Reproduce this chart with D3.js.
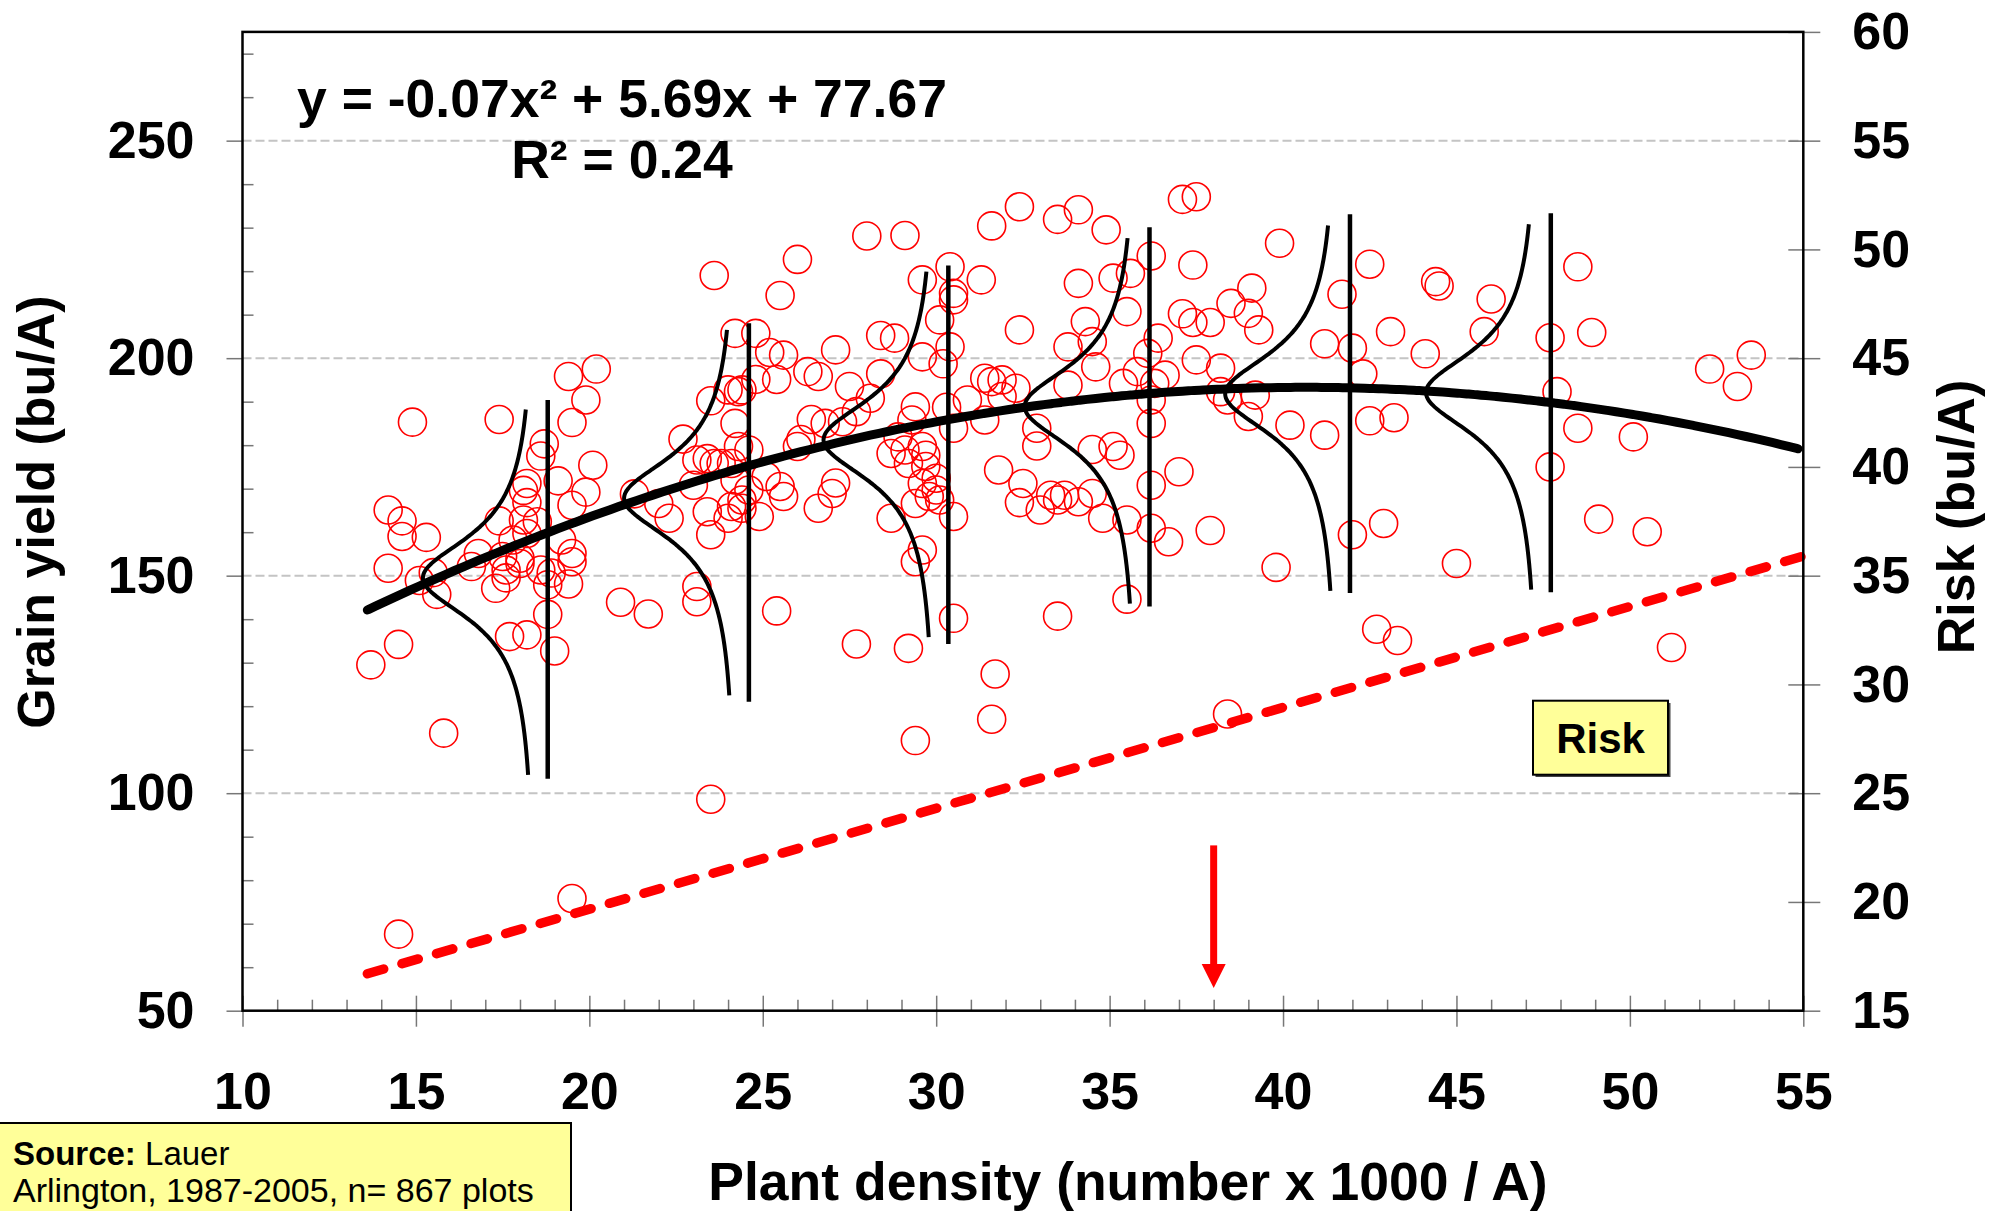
<!DOCTYPE html>
<html>
<head>
<meta charset="utf-8">
<script src="https://cdn.jsdelivr.net/npm/d3@7"></script>
<style>
  body { margin: 0; background: #fff; }
  svg { display: block; }
  text { font-family: "Liberation Sans", Arial, sans-serif; }
</style>
</head>
<body>
<svg id="chart" width="2001" height="1211"></svg>
<script>
// plot density (x 1000 / A) and grain yield (bu/A) of each plot
const plotDensity = [
  19.4, 20.2, 19.9, 19.5, 14.9, 17.4, 18.7, 18.6, 20.1, 19.1, 18.2, 18.1, 18.2, 19.9, 19.5, 22.7, 21.3, 22.0, 22.3, 14.2,
  14.6, 14.6, 15.3, 17.4, 18.1, 18.5, 17.8, 18.2, 19.2, 19.5, 16.8, 17.5, 18.0,
  14.2, 15.1, 15.5, 15.6, 16.6, 17.3, 17.6, 17.6, 18.0, 18.6, 18.9, 18.8, 19.4, 19.5, 18.8, 17.7, 18.2, 19.0, 20.9, 21.7,
  14.5, 13.7, 15.8, 19.5, 14.5,
  23.6, 26.0, 25.5, 28.0, 29.1, 31.6, 32.4, 33.5,
  24.2, 24.8, 25.2, 25.6, 27.1, 28.4, 28.8, 29.6, 30.4, 30.5, 30.5, 31.3, 30.1, 30.4, 30.2, 29.6, 32.4,
  24.0, 24.4, 24.3, 24.8, 25.4, 26.3, 26.6, 27.5, 28.4, 28.1, 27.7, 23.5, 24.2, 26.4, 26.8, 26.1, 26.0, 27.3, 29.4, 29.3,
  30.3, 30.5, 30.9, 31.4, 31.6, 31.4, 31.9, 32.3, 31.9, 32.9, 32.9, 31.8, 32.5, 32.4, 33.0, 33.3, 33.5,
  28.9, 29.1, 29.6, 29.7, 29.2, 29.7, 28.7, 29.6, 30.0, 30.0, 29.8, 30.1, 29.4, 30.5, 28.7, 29.6,
  23.1, 23.4, 23.6, 23.8, 24.3, 24.6, 24.1, 23.0, 24.2, 24.6, 25.1, 25.5, 25.6, 24.4, 24.1, 24.4, 23.4, 24.9, 24.0, 23.5,
  26.6, 27.1, 27.0,
  23.1, 23.1, 25.4, 27.7, 29.2, 30.5, 29.4, 31.7, 31.6, 29.4, 33.5, 23.5,
  34.1, 34.9, 37.1, 37.5, 34.1, 35.1, 35.6, 36.2, 37.4, 39.9, 34.3, 35.5, 37.1, 37.4, 37.9, 38.5, 39.1, 39.0, 39.3, 33.8,
  34.5, 36.4, 36.1, 37.5, 38.2, 33.8, 34.6, 35.4, 35.8, 36.3, 36.6, 36.2, 36.2, 38.2, 38.4, 39.2, 39.0, 40.2, 41.2, 41.2,
  41.7, 42.5, 42.0, 42.3, 43.1, 42.5, 43.2,
  34.5, 35.1, 35.3, 33.7, 34.1, 34.5, 34.8, 35.5, 36.2, 37.0, 36.2, 36.7, 37.9, 42.0, 42.9,
  35.5, 39.8, 42.7, 43.3, 38.4,
  44.4, 44.5, 46.0, 45.8, 48.5, 47.7, 48.9, 44.1, 47.9, 48.5, 50.1, 47.7, 52.3, 53.1, 53.5, 49.1, 50.5,
  45.0, 51.2
];
const plotYield = [
  195.8, 197.5, 190.4, 185.2, 185.3, 185.9, 180.3, 177.5, 175.4, 171.8, 171.2, 169.6, 166.8, 169.2, 166.2, 181.4, 168.8, 166.6, 163.2, 165.1,
  162.6, 159.0, 158.8, 162.6, 162.8, 162.4, 158.2, 159.7, 158.2, 155.1, 155.1, 154.4, 154.0,
  151.7, 148.9, 150.7, 145.7, 152.1, 147.1, 151.3, 149.5, 152.8, 151.3, 150.6, 147.9, 148.1, 153.2, 141.1, 136.0, 136.4, 132.7, 143.9, 141.2,
  134.2, 129.5, 113.8, 75.8, 67.6,
  219.0, 222.7, 214.4, 228.1, 228.2, 230.4, 234.8, 231.9,
  205.7, 205.7, 201.3, 200.7, 201.9, 205.2, 204.6, 218.0, 221.0, 214.9, 213.4, 218.0, 208.8, 202.6, 198.7, 200.3, 206.5,
  192.7, 192.7, 192.3, 195.1, 195.1, 196.9, 195.8, 193.5, 196.4, 190.8, 187.7, 190.2, 185.0, 185.9, 185.0, 181.3, 179.7, 185.4, 188.8, 185.8,
  188.7, 183.9, 190.4, 185.8, 194.6, 195.4, 195.0, 193.1, 191.2, 183.9, 179.8, 174.3, 171.2, 166.8, 165.1, 168.5, 167.4,
  181.9, 178.9, 179.7, 177.7, 175.8, 175.1, 178.1, 171.2, 172.4, 169.7, 168.2, 167.4, 166.6, 163.6, 163.2, 155.9,
  176.6, 176.9, 175.8, 175.8, 179.7, 178.9, 175.8, 170.8, 172.0, 169.7, 172.8, 170.5, 168.2, 167.4, 165.9, 165.5, 164.7, 163.6, 163.2, 159.4,
  165.5, 171.3, 168.9,
  147.5, 144.0, 141.9, 134.3, 133.3, 140.2, 153.2, 127.4, 117.0, 112.1, 140.7, 98.6,
  234.1, 229.5, 236.5, 237.1, 217.2, 218.4, 219.5, 223.5, 221.4, 226.4, 208.4, 210.7, 210.2, 208.2, 208.2, 212.6, 216.1, 210.3, 206.5, 202.6,
  203.8, 204.6, 201.1, 199.6, 197.7, 193.8, 198.0, 194.2, 196.9, 194.2, 196.1, 190.4, 185.0, 192.3, 190.4, 191.5, 186.6, 184.6, 182.3, 203.3,
  214.7, 221.6, 202.3, 196.4, 206.1, 185.6, 186.3,
  179.0, 179.7, 177.7, 168.5, 167.0, 168.9, 163.2, 162.8, 170.8, 173.9, 160.9, 157.8, 160.4, 159.4, 162.0,
  144.6, 151.9, 137.7, 135.1, 118.2,
  217.6, 216.6, 213.6, 206.1, 221.0, 204.7, 205.9, 201.0, 192.3, 183.9, 181.9, 175.0, 197.5, 193.5, 200.7, 163.0, 160.1,
  152.8, 133.5
];

// quadratic trend: y = -0.07x² + 5.69x + 77.67
const fitCoef = [-0.07, 5.69, 77.67];
const fitRange = [13.6, 55];

// risk line (right axis)
const riskDensity = [13.6, 55];
const riskValue = [16.7, 35.9];

// yield distributions drawn sideways along the trend
const bellDensity = [18.8, 24.6, 30.35, 36.15, 41.93, 47.72];
const bellCentre = [149.5, 167.8, 181.2, 188.9, 191.8, 192.1];
const bellLineTop = [190.4, 208.0, 221.3, 230.1, 233.1, 233.3];
const bellLineBottom = [103.3, 121.0, 134.3, 142.9, 146.0, 146.2];

// optimum density arrow
const arrowDensity = 38;
const arrowYield = [88, 55.2];

const leftTicks = [50, 100, 150, 200, 250];
const leftMinor = d3.range(60, 275, 10).filter(v => v % 50 !== 0);
const rightTicks = [15, 20, 25, 30, 35, 40, 45, 50, 55, 60];
const xTicks = [10, 15, 20, 25, 30, 35, 40, 45, 50, 55];
const xMinor = d3.range(11, 55).filter(v => v % 5 !== 0);

const svg = d3.select("#chart");
const box = { left: 242.5, right: 1803.3, top: 31.9, bottom: 1010.7 };

const x = d3.scaleLinear().domain([10, 55]).range([box.left, box.right]);
const y = d3.scaleLinear().domain([50, 275]).range([box.bottom, box.top]);
const yRisk = d3.scaleLinear().domain([15, 60]).range([box.bottom, box.top]);

// gridlines
svg.append("g")
  .selectAll("line")
  .data(leftTicks.slice(1))
  .join("line")
    .attr("x1", box.left).attr("x2", box.right)
    .attr("y1", d => y(d)).attr("y2", d => y(d))
    .attr("stroke", "#c4c4c4")
    .attr("stroke-width", 2)
    .attr("stroke-dasharray", "9,4");

// axes
function styleAxis(g, size) {
  g.select(".domain").remove();
  g.selectAll(".tick line").attr("stroke", "#555").attr("stroke-width", 1.5);
  g.selectAll("text")
    .attr("fill", "#000")
    .style("font-size", size + "px")
    .style("font-weight", "bold")
    .style("font-family", '"Liberation Sans", Arial, sans-serif');
}

svg.append("g")
  .attr("transform", `translate(${box.left},0)`)
  .call(d3.axisLeft(y).tickValues(leftTicks).tickSize(16).tickPadding(32))
  .call(g => styleAxis(g, 52));
svg.append("g")
  .attr("transform", `translate(${box.left},0)`)
  .call(d3.axisRight(y).tickValues(leftMinor).tickSize(11).tickFormat(""))
  .call(g => styleAxis(g, 0));

svg.append("g")
  .attr("transform", `translate(0,${box.bottom})`)
  .call(d3.axisBottom(x).tickValues(xTicks).tickSize(16).tickPadding(45))
  .call(g => styleAxis(g, 52));
svg.append("g")
  .attr("transform", `translate(0,${box.bottom})`)
  .call(d3.axisTop(x).tickValues(xTicks).tickSize(15).tickFormat(""))
  .call(g => styleAxis(g, 0));
svg.append("g")
  .attr("transform", `translate(0,${box.bottom})`)
  .call(d3.axisTop(x).tickValues(xMinor).tickSize(11).tickFormat(""))
  .call(g => styleAxis(g, 0));

svg.append("g")
  .attr("transform", `translate(${box.right},0)`)
  .call(d3.axisRight(yRisk).tickValues(rightTicks).tickSize(17).tickPadding(32))
  .call(g => styleAxis(g, 52));
svg.append("g")
  .attr("transform", `translate(${box.right},0)`)
  .call(d3.axisLeft(yRisk).tickValues(rightTicks).tickSize(15).tickFormat(""))
  .call(g => styleAxis(g, 0));
svg.selectAll(".tick line").attr("stroke", "#777");

// plots
svg.append("g")
  .selectAll("circle")
  .data(d3.range(plotDensity.length))
  .join("circle")
    .attr("cx", i => x(plotDensity[i]))
    .attr("cy", i => y(plotYield[i]))
    .attr("r", 14)
    .attr("fill", "none")
    .attr("stroke", "#ff0000")
    .attr("stroke-width", 1.6);

// risk line
svg.append("path")
  .datum(d3.range(riskDensity.length))
  .attr("d", d3.line().x(i => x(riskDensity[i])).y(i => yRisk(riskValue[i])))
  .attr("fill", "none")
  .attr("stroke", "#ff0000")
  .attr("stroke-width", 9.5)
  .attr("stroke-linecap", "round")
  .attr("stroke-dasharray", "17,19");

// trend
const fit = v => fitCoef[0] * v * v + fitCoef[1] * v + fitCoef[2];
const fitPts = d3.range(fitRange[0], fitRange[1] + 0.01, 0.25);
svg.append("path")
  .datum(fitPts)
  .attr("d", d3.line().x(d => x(d)).y(d => y(fit(d))).curve(d3.curveBasis))
  .attr("fill", "none")
  .attr("stroke", "#000")
  .attr("stroke-width", 9)
  .attr("stroke-linecap", "round");

// distributions: baseline sits just left of each line, peak reaches back to the trend
const bellGap = 0.37, bellHeight = 3.23, bellSpread = 11.5;
const bellUp = 39, bellDown = 45.3;
const bellLine = d3.line().x(d => x(d[0])).y(d => y(d[1])).curve(d3.curveBasis);
bellDensity.forEach((bx, i) => {
  const c = bellCentre[i];
  const pts = d3.range(-bellDown, bellUp + 0.01, 0.5).map(t =>
    [bx - bellGap - bellHeight / (1 + (t / bellSpread) ** 2), c + t]);
  svg.append("path")
    .datum(pts)
    .attr("d", bellLine)
    .attr("fill", "none")
    .attr("stroke", "#000")
    .attr("stroke-width", 4);
  svg.append("line")
    .attr("x1", x(bx)).attr("x2", x(bx))
    .attr("y1", y(bellLineTop[i])).attr("y2", y(bellLineBottom[i]))
    .attr("stroke", "#000")
    .attr("stroke-width", 4.5);
});

// frame
svg.append("rect")
  .attr("x", box.left).attr("y", box.top)
  .attr("width", box.right - box.left).attr("height", box.bottom - box.top)
  .attr("fill", "none")
  .attr("stroke", "#000")
  .attr("stroke-width", 2.5);

// arrow
const ax = x(arrowDensity), aTip = y(arrowYield[1]);
svg.append("line")
  .attr("x1", ax).attr("x2", ax)
  .attr("y1", y(arrowYield[0])).attr("y2", aTip - 20)
  .attr("stroke", "#ff0000")
  .attr("stroke-width", 7);
svg.append("path")
  .attr("d", `M${ax - 12},${aTip - 24}L${ax + 12},${aTip - 24}L${ax},${aTip}Z`)
  .attr("fill", "#ff0000");

// equation
svg.append("text")
  .attr("x", 622).attr("y", 117)
  .attr("text-anchor", "middle")
  .style("font-size", "53.5px").style("font-weight", "bold")
  .text("y = -0.07x² + 5.69x + 77.67");
svg.append("text")
  .attr("x", 622).attr("y", 178)
  .attr("text-anchor", "middle")
  .style("font-size", "53.5px").style("font-weight", "bold")
  .text("R² = 0.24");

// Risk label
svg.append("rect")
  .attr("x", 1535.5).attr("y", 703).attr("width", 135).attr("height", 74)
  .attr("fill", "#444");
svg.append("rect")
  .attr("x", 1533).attr("y", 700.7).attr("width", 135).attr("height", 74)
  .attr("fill", "#ffff99").attr("stroke", "#000").attr("stroke-width", 2);
svg.append("text")
  .attr("x", 1600.5).attr("y", 753)
  .attr("text-anchor", "middle")
  .style("font-size", "42px").style("font-weight", "bold")
  .text("Risk");

// axis titles
svg.append("text")
  .attr("transform", "translate(54,512) rotate(-90)")
  .attr("text-anchor", "middle")
  .style("font-size", "52px").style("font-weight", "bold")
  .text("Grain yield (bu/A)");
svg.append("text")
  .attr("transform", "translate(1974,517) rotate(-90)")
  .attr("text-anchor", "middle")
  .style("font-size", "52px").style("font-weight", "bold")
  .text("Risk (bu/A)");
svg.append("text")
  .attr("x", 1128).attr("y", 1200)
  .attr("text-anchor", "middle")
  .style("font-size", "53.5px").style("font-weight", "bold")
  .text("Plant density (number x 1000 / A)");

// source note
svg.append("rect")
  .attr("x", -2).attr("y", 1123).attr("width", 573).attr("height", 100)
  .attr("fill", "#ffff99").attr("stroke", "#000").attr("stroke-width", 2);
const src = svg.append("text")
  .attr("x", 13).attr("y", 1165)
  .style("font-size", "33px");
src.append("tspan").style("font-weight", "bold").text("Source:");
src.append("tspan").text(" Lauer");
svg.append("text")
  .attr("x", 13).attr("y", 1202)
  .style("font-size", "34px")
  .text("Arlington, 1987-2005, n= 867 plots");
</script>
</body>
</html>
